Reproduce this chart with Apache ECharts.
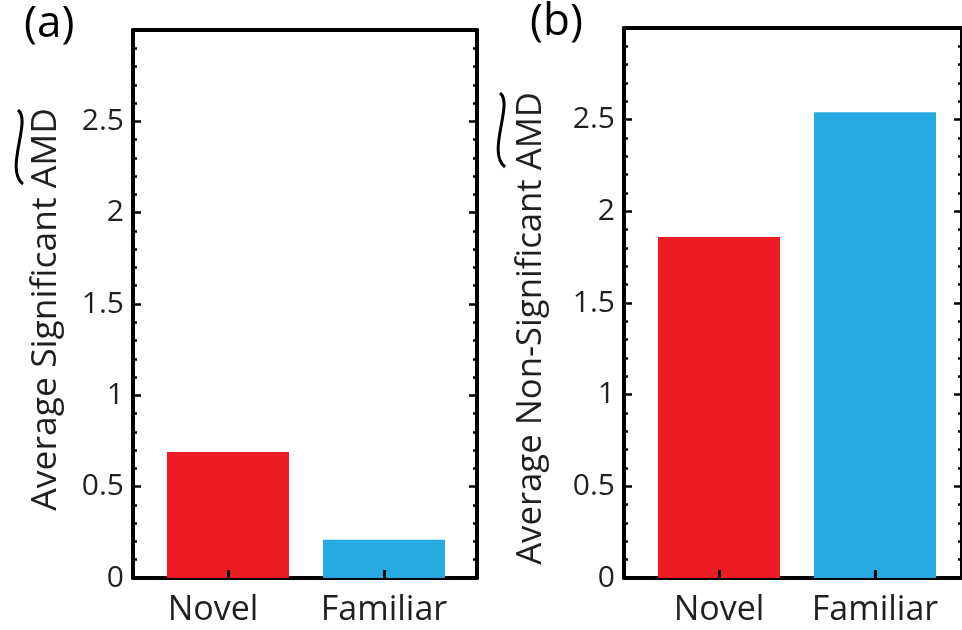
<!DOCTYPE html>
<html>
<head>
<meta charset="utf-8">
<script src="https://cdn.jsdelivr.net/npm/echarts@6/dist/echarts.min.js"></script>
<style>html,body{margin:0;padding:0;background:#fff}#c{width:962px;height:630px}</style>
</head>
<body>
<div id="c"></div>
<script>
const categories = ['Novel', 'Familiar'];
const sigValues = [0.69, 0.21];
const nonSigValues = [1.86, 2.54];
const yTickLabels = [0, 0.5, 1, 1.5, 2, 2.5];
const yMin = 0, yMax = 3, yStep = 0.5;
const panelTitles = ['(a)', '(b)'];
const yTitles = ['Average Significant AMD', 'Average Non-Significant AMD'];
const barColors = ['#ED1C24', '#27A9E1'];

const FONT = 'Open Sans';
const TXT = '#231F20';

function boxY(grid, pos, labels) {
  return {
    type: 'value', gridIndex: grid, position: pos, min: yMin, max: yMax, interval: yStep,
    axisLine: {show: true, onZero: false, lineStyle: {color: '#000', width: 4}},
    axisTick: {show: true, inside: true, length: 8, lineStyle: {color: '#000', width: 2.5}},
    minorTick: {show: true, splitNumber: 5, length: 4, lineStyle: {color: '#000', width: 2.5}},
    splitLine: {show: false}, minorSplitLine: {show: false},
    axisLabel: {show: labels, margin: 9, fontSize: 30, fontFamily: FONT, color: TXT,
      formatter: v => yTickLabels.indexOf(+v) >= 0 ? String(v) : ''}
  };
}
function boxX(grid, pos) {
  return {
    type: 'value', gridIndex: grid, position: pos, min: 0, max: 1,
    axisLine: {show: true, onZero: false, lineStyle: {color: '#000', width: 4}},
    axisTick: {show: false}, axisLabel: {show: false}, splitLine: {show: false}
  };
}
function catX(grid, firstPad) {
  return {
    type: 'category', gridIndex: grid, z: 10,
    data: categories.map((c, i) => i === 0 && firstPad ? {value: c, textStyle: {padding: [0, firstPad, 0, 0]}} : c),
    axisLine: {show: false},
    axisTick: {show: true, inside: true, alignWithLabel: true, interval: 0, length: 8, lineStyle: {color: '#000', width: 3}},
    axisLabel: {interval: 0, hideOverlap: false, margin: 15, fontSize: 34, fontFamily: FONT, color: TXT},
    splitLine: {show: false}
  };
}
function hiddenY(grid) {
  return {type: 'value', gridIndex: grid, min: yMin, max: yMax, show: false};
}
function barData(vals) {
  return vals.map((v, i) => ({value: v, itemStyle: {color: barColors[i]}}));
}

const option = {
  animation: false,
  grid: [
    {left: 133, top: 30, width: 344, height: 548},
    {left: 150, top: 30, width: 312, height: 548},
    {left: 624, top: 28, width: 346, height: 550},
    {left: 641, top: 28, width: 312, height: 550}
  ],
  xAxis: [boxX(0, 'bottom'), boxX(0, 'top'), catX(1, 30), boxX(2, 'bottom'), boxX(2, 'top'), catX(3, 0)],
  yAxis: [boxY(0, 'left', true), boxY(0, 'right', false), hiddenY(1),
          boxY(2, 'left', true), boxY(2, 'right', false), hiddenY(3)],
  series: [
    {type: 'bar', xAxisIndex: 2, yAxisIndex: 2, barWidth: 122, data: barData(sigValues)},
    {type: 'bar', xAxisIndex: 5, yAxisIndex: 5, barWidth: 122, data: barData(nonSigValues)}
  ],
  graphic: [
    {type: 'text', x: 24, y: 24, style: {text: panelTitles[0], fontSize: 44, fontFamily: FONT, fill: '#000', align: 'left', textAlign: 'left', verticalAlign: 'middle', textVerticalAlign: 'middle'}},
    {type: 'text', x: 530, y: 22, style: {text: panelTitles[1], fontSize: 44, fontFamily: FONT, fill: '#000', align: 'left', textAlign: 'left', verticalAlign: 'middle', textVerticalAlign: 'middle'}},
    {type: 'text', x: 46, y: 108, rotation: Math.PI / 2, style: {text: yTitles[0], fontSize: 35.5, fontFamily: FONT, fill: TXT, align: 'right', textAlign: 'right', verticalAlign: 'middle', textVerticalAlign: 'middle'}},
    {type: 'text', x: 531, y: 92, rotation: Math.PI / 2, style: {text: yTitles[1], fontSize: 34.7, fontFamily: FONT, fill: TXT, align: 'right', textAlign: 'right', verticalAlign: 'middle', textVerticalAlign: 'middle'}},
    {type: 'bezierCurve', shape: {x1: 18, y1: 110, cpx1: 32, cpy1: 120, cpx2: 4, cpy2: 170, x2: 23, y2: 184}, style: {stroke: '#000', lineWidth: 3, fill: null}},
    {type: 'bezierCurve', shape: {x1: 500, y1: 93, cpx1: 514, cpy1: 103, cpx2: 486, cpy2: 153, x2: 505, y2: 167}, style: {stroke: '#000', lineWidth: 3, fill: null}}
  ]
};
echarts.init(document.getElementById('c'), null, {renderer: 'canvas'}).setOption(option);
</script>
</body>
</html>
